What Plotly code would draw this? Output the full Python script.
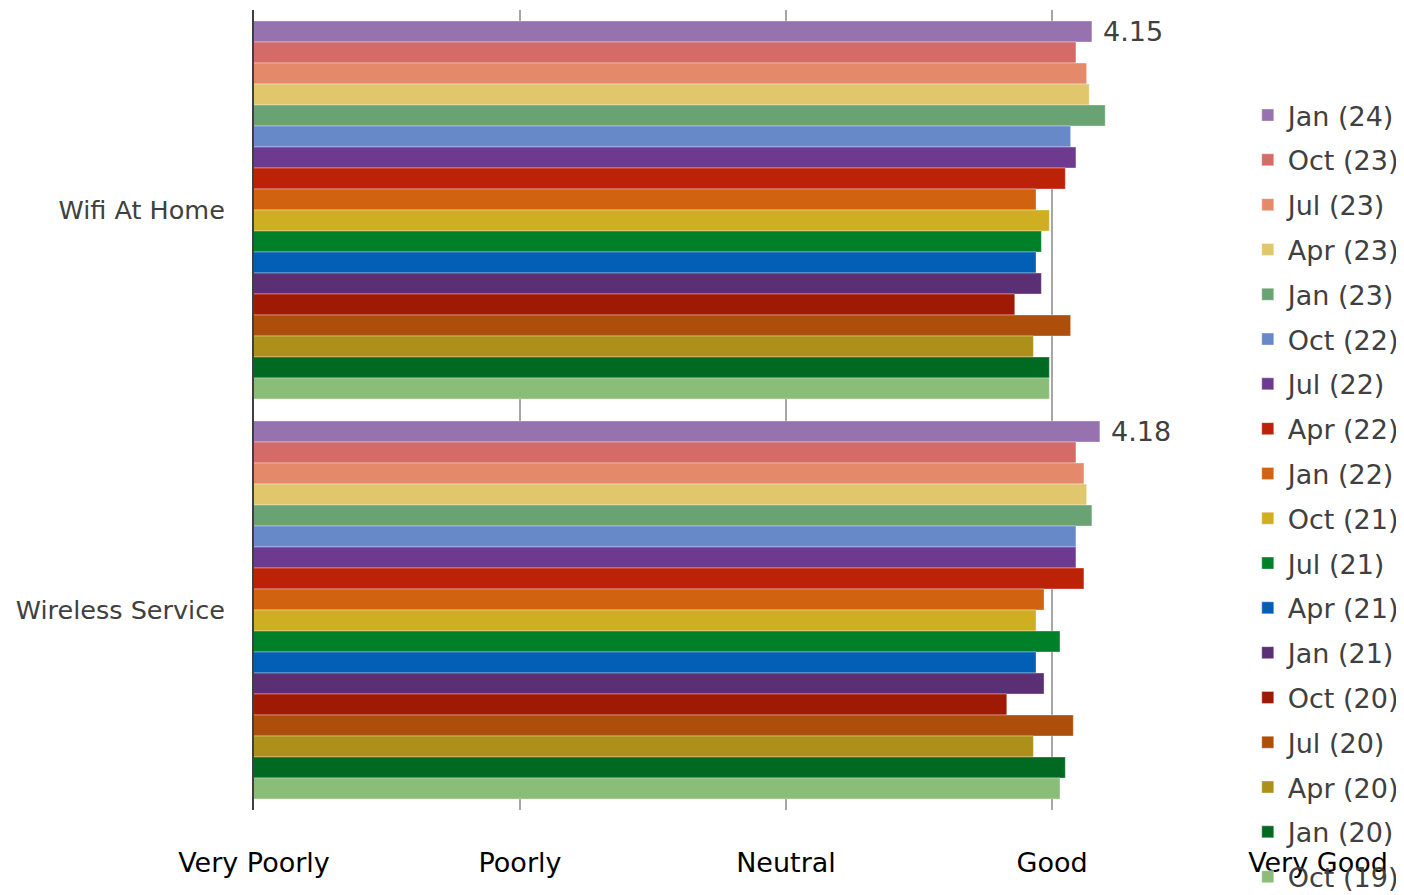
import plotly.graph_objects as go

categories = ["Wifi At Home", "Wireless Service"]
series_names = ["Jan (24)", "Oct (23)", "Jul (23)", "Apr (23)", "Jan (23)", "Oct (22)",
                "Jul (22)", "Apr (22)", "Jan (22)", "Oct (21)", "Jul (21)", "Apr (21)",
                "Jan (21)", "Oct (20)", "Jul (20)", "Apr (20)", "Jan (20)", "Oct (19)"]
wifi_at_home = [4.15, 4.09, 4.13, 4.14, 4.20, 4.07, 4.09, 4.05, 3.94, 3.99,
                3.96, 3.94, 3.96, 3.86, 4.07, 3.93, 3.99, 3.99]
wireless_service = [4.18, 4.09, 4.12, 4.13, 4.15, 4.09, 4.09, 4.12, 3.97, 3.94,
                    4.03, 3.94, 3.97, 3.83, 4.08, 3.93, 4.05, 4.03]
colors = ["#9673AE", "#D46B66", "#E48A6B", "#E0C76E", "#69A373", "#6889C8",
          "#6E3A8F", "#BB2208", "#D1620F", "#CFAE22", "#008028", "#035EB6",
          "#5B2F73", "#9E1A04", "#AD4E0A", "#AD9019", "#006A23", "#8ABD78"]
tick_values = [1, 2, 3, 4, 5]
tick_labels = ["Very Poorly", "Poorly", "Neutral", "Good", "Very Good"]
labelled_series = ["Jan (24)"]

FONT = "DejaVu Sans, sans-serif"
FS = 27

fig = go.Figure()
for i, name in enumerate(series_names):
    vals = [wifi_at_home[i], wireless_service[i]]
    kw = {}
    if name in labelled_series:
        kw = dict(text=[f"{v:.2f}" for v in vals],
                  texttemplate="\u2009\u200a%{text}",
                  textposition="outside",
                  constraintext="none",
                  cliponaxis=False,
                  outsidetextfont=dict(family=FONT, size=FS, color="#404040"))
    fig.add_trace(go.Bar(
        y=categories, x=vals, orientation="h", name=name,
        legendgroup=name,
        marker=dict(color=colors[i], line=dict(color="rgba(255,255,255,0.35)", width=1)),
        hoverinfo="x+name",
        **kw,
    ))

fig.update_layout(
    width=1396, height=887,
    barmode="group", bargap=0.055, bargroupgap=0,
    plot_bgcolor="white", paper_bgcolor="white",
    font=dict(family=FONT, size=FS, color="#404040"),
    margin=dict(l=246, r=86, t=2, b=85, autoexpand=False),
    xaxis=dict(range=[1, 5], tickvals=tick_values, ticktext=tick_labels,
               showgrid=True, gridcolor="#A6A6A6", gridwidth=2,
               zeroline=False, showline=False, ticks="",
               ticklabelstandoff=34,
               tickfont=dict(family=FONT, size=FS, color="#000000")),
    yaxis=dict(autorange="reversed", showline=True, linecolor="#404040", linewidth=2,
               ticks="", ticklabelstandoff=22, showgrid=False,
               tickfont=dict(family=FONT, size=25.5, color="#404040")),
    legend=dict(x=0.934, xanchor="left", yref="container", y=1 - 83 / 887, yanchor="top",
                traceorder="grouped", tracegroupgap=6.7, maxheight=1,
                bgcolor="rgba(0,0,0,0)",
                font=dict(family=FONT, size=FS, color="#404040")),
    showlegend=True,
)

fig.write_html("out.html")
